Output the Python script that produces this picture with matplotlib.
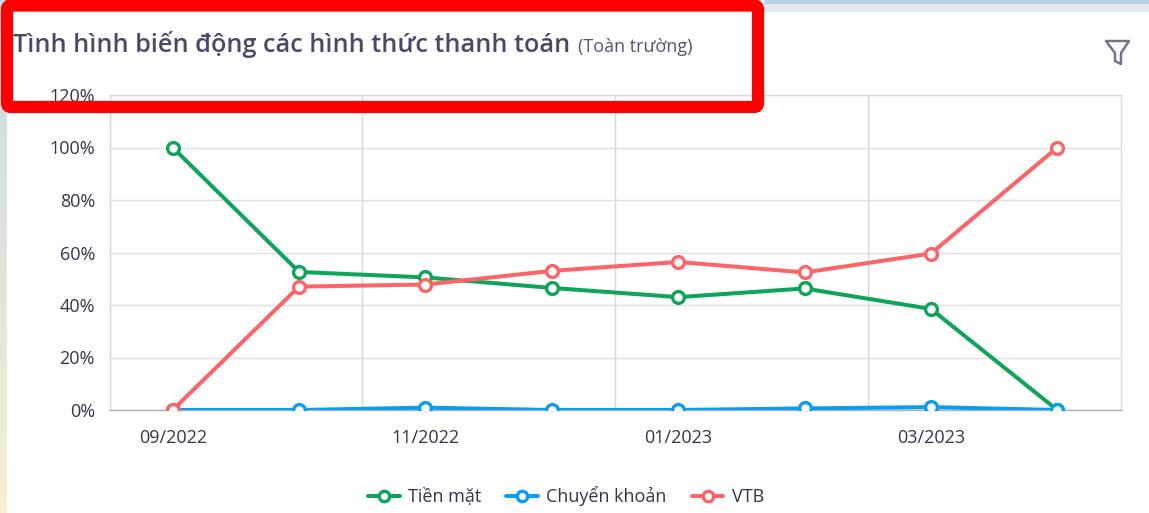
import numpy as np
import matplotlib
matplotlib.use("Agg")
import matplotlib.pyplot as plt
from matplotlib.patches import Polygon, FancyBboxPatch, Rectangle
from matplotlib.transforms import Affine2D

plt.rcParams['font.family'] = ['Open Sans', 'Noto Sans', 'DejaVu Sans']

months = ['09/2022', '10/2022', '11/2022', '12/2022', '01/2023', '02/2023', '03/2023', '04/2023']
tien_mat = [100, 52.6, 50.5, 46.5, 43.0, 46.3, 38.5, 0]
chuyen_khoan = [0, 0, 0.9, 0, 0, 0.6, 1.1, 0]
vtb = [0, 47.0, 47.8, 53.0, 56.4, 52.4, 59.6, 100]
y_ticks = [0, 20, 40, 60, 80, 100, 120]
W, H = 1149, 513
TXT = '#35354a'

fig = plt.figure(figsize=(W / 100, H / 100), dpi=100, facecolor='white')
px = Affine2D().scale(1, -1).translate(0, H)  # pixel coords, top-left origin


def axes_px(l, t, r, b, **kw):
    return fig.add_axes([l / W, 1 - b / H, (r - l) / W, (b - t) / H], **kw)


# page background behind the card
strip = axes_px(0, 0, 7, H, zorder=0)
c0, c1 = np.array([200, 219, 230]) / 255, np.array([247, 240, 210]) / 255
grad = np.linspace(0, 1, 256)[:, None, None]
strip.imshow(c0 + (c1 - c0) * grad, aspect='auto')
strip.axis('off')
fig.add_artist(Rectangle((764, 0), W - 764, 4, transform=px, fc='#b8d3e8', ec='none', zorder=1))
fig.add_artist(Rectangle((764, 4), W - 764, 8, transform=px, fc='#e8e9ee', ec='none', zorder=1))

ax = axes_px(109.5, 95, 1120.5, 410, zorder=2)
ax.patch.set_alpha(0)
x = np.arange(len(months))
series = [('Tiền mặt', tien_mat, '#0ea55a'),
          ('Chuyển khoản', chuyen_khoan, '#0c9df0'),
          ('VTB', vtb, '#fb6468')]
handles = []
for i, (name, vals, col) in enumerate(series):
    ln, = ax.plot(x, vals, color=col, lw=2.9, marker='o', ms=8.5, mfc='white',
                  mec=col, mew=2.4, label=name, zorder=3 + i, solid_capstyle='round')
    handles.append(ln)

ax.set_xlim(-0.5, len(months) - 0.5)
ax.set_ylim(0, 120)
ax.set_yticks(y_ticks)
ax.set_yticklabels([f'{v}%' for v in y_ticks], fontsize=13, color=TXT)
ax.set_xticks(x[::2])
ax.set_xticklabels(months[::2], fontsize=13, color=TXT)
ax.set_xticks(x[::2] - 0.5, minor=True)
ax.tick_params(axis='both', which='both', length=0)
ax.tick_params(axis='y', pad=10.5)
ax.tick_params(axis='x', pad=14)
ax.grid(axis='y', color='#dfdfe4', lw=1.0)
ax.grid(axis='x', which='minor', color='#d6d6dc', lw=1.0)
ax.grid(axis='x', which='major', visible=False)
ax.set_axisbelow(True)
for s, sp in ax.spines.items():
    sp.set_color('#dadade')
    sp.set_linewidth(1.0)
ax.spines['bottom'].set_color('#b0b0b8')

leg = fig.legend(handles=handles, loc='center', bbox_to_anchor=(566 / W, 1 - 496 / H),
                 ncol=3, frameon=False, fontsize=13, handlelength=1.75, handletextpad=0.45,
                 columnspacing=1.4, labelcolor=TXT, borderpad=0)
for h in leg.legend_handles:
    h.set_markersize(7.5)
    h.set_markeredgewidth(2.4)

# card title
fig.text(13 / W, 1 - 52 / H, 'Tình hình biến động các hình thức thanh toán', fontsize=18.2,
         fontweight=600, color='#4a4a68', va='baseline', ha='left', zorder=20)
fig.text(578 / W, 1 - 52 / H, '(Toàn trường)', fontsize=13, color='#55556e', va='baseline',
         ha='left', zorder=20)

# filter icon
fig.add_artist(Polygon([(1106, 41), (1129, 41), (1121, 53), (1121, 64), (1115, 61), (1115, 53)],
                       closed=True, transform=px, fc='white', ec='#73738a', lw=1.8,
                       joinstyle='round', zorder=20))

# red annotation frame drawn over the chart
fig.add_artist(FancyBboxPatch((7, 5.5), 751, 101.5, boxstyle='round,pad=0,rounding_size=4',
                              transform=px, fc='none', ec='#fe0000', lw=8.8, zorder=30))

fig.savefig('out.png', dpi=100)
